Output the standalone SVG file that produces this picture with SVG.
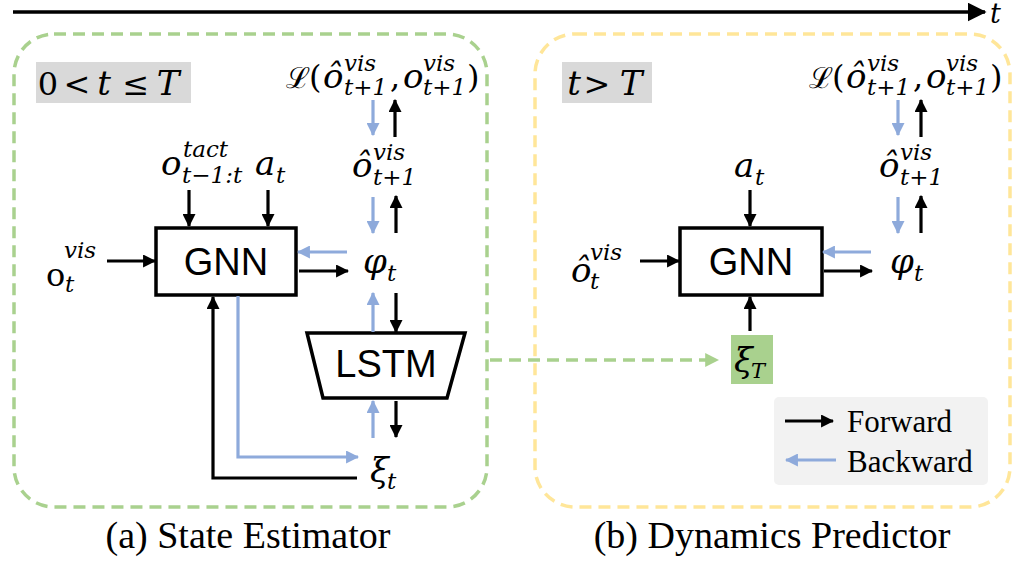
<svg xmlns="http://www.w3.org/2000/svg" width="1022" height="567" viewBox="0 0 1022 567">
<style>
.m{font-family:"DejaVu Serif","Liberation Serif",serif;font-style:italic;font-size:34px;fill:#000}
.mu{font-family:"DejaVu Serif","Liberation Serif",serif;font-style:normal;font-size:32px;fill:#000}
.s{font-family:"DejaVu Serif","Liberation Serif",serif;font-style:italic;font-size:23px;fill:#000}
.c{text-anchor:middle}
.box{fill:#fff;stroke:#000;stroke-width:3.5}
.sans{font-family:"Liberation Sans",Arial,sans-serif;font-size:38px;fill:#000;text-anchor:middle}
.cap{font-family:"Liberation Serif","Times New Roman",serif;font-size:38px;fill:#000;text-anchor:middle}
.leg{font-family:"Liberation Serif","Times New Roman",serif;font-size:31px;fill:#000}
.fw{stroke:#000;stroke-width:3.2;fill:none;marker-end:url(#ah)}
.bw{stroke:#8eaadb;stroke-width:3.2;fill:none;marker-end:url(#ahb)}
.tag{fill:#d9d9d9}
</style>
<defs>
<marker id="ah" markerUnits="userSpaceOnUse" markerWidth="13" markerHeight="13" viewBox="0 0 12 12" refX="11" refY="6" orient="auto"><path d="M0,0 L12,6 L0,12 z" fill="#000"/></marker>
<marker id="ahb" markerUnits="userSpaceOnUse" markerWidth="13" markerHeight="13" viewBox="0 0 12 12" refX="11" refY="6" orient="auto"><path d="M0,0 L12,6 L0,12 z" fill="#8eaadb"/></marker>
<marker id="ahg" markerUnits="userSpaceOnUse" markerWidth="14" markerHeight="14" viewBox="0 0 12 12" refX="11" refY="6" orient="auto"><path d="M0,0 L12,6 L0,12 z" fill="#a9d18e"/></marker>
<marker id="aht" markerUnits="userSpaceOnUse" markerWidth="19" markerHeight="19" viewBox="0 0 12 12" refX="11" refY="6" orient="auto"><path d="M0,0 L12,6 L0,12 z" fill="#000"/></marker>
</defs>

<!-- timeline -->
<g id="timeline">
<line x1="13" y1="12" x2="985" y2="12" stroke="#000" stroke-width="3.5" marker-end="url(#aht)"/>
<text class="m" x="990" y="23" style="font-size:27px">t</text>
</g>

<!-- panels -->
<g id="panel-a">
<rect x="14" y="34" width="473" height="473" rx="40" fill="none" stroke="#a9d18e" stroke-width="3.5" stroke-dasharray="12 7"/>
<rect class="tag" x="36" y="62" width="155" height="41"/>
<text class="mu c" x="48" y="95">0</text>
<text class="mu c" x="77" y="95">&lt;</text>
<text class="m c" x="104" y="95">t</text>
<text class="mu c" x="136" y="95">≤</text>
<text class="m c" x="168" y="95">T</text>
<text class="cap" x="248" y="548">(a) State Estimator</text>
</g>
<g id="panel-b">
<rect x="535" y="34" width="475" height="473" rx="40" fill="none" stroke="#ffe699" stroke-width="3.5" stroke-dasharray="12 7"/>
<rect class="tag" x="562" y="62" width="90" height="41"/>
<text class="m c" x="574" y="95">t</text>
<text class="mu c" x="597" y="95">&gt;</text>
<text class="m c" x="631" y="95">T</text>
<text class="cap" x="772" y="548">(b) Dynamics Predictor</text>
</g>

<!-- left nodes -->
<g id="loss-a">
<text class="mu" x="286" y="88" style="font-size:29px">ℒ</text>
<text class="mu" x="309" y="88">(</text>
<text class="m" x="323" y="88">ô</text>
<text class="s" x="344" y="71">vis</text>
<text class="s" x="344" y="95">t+1</text>
<text class="mu" x="390" y="88">,</text>
<text class="m" x="403" y="88">o</text>
<text class="s" x="423" y="71">vis</text>
<text class="s" x="423" y="95">t+1</text>
<text class="mu" x="467" y="88">)</text>
</g>
<g id="ohat-next-a">
<text class="m" x="352" y="177">ô</text>
<text class="s" x="373" y="160">vis</text>
<text class="s" x="373" y="185">t+1</text>
</g>
<g id="otact">
<text class="m" x="161" y="175">o</text>
<text class="s" x="183" y="157">tact</text>
<text class="s" x="182" y="183">t−1:t</text>
</g>
<g id="at-a">
<text class="m" x="255" y="175">a</text>
<text class="s" x="276" y="183">t</text>
</g>
<g id="ovis">
<text class="mu" x="46" y="286">o</text>
<text class="s" x="64" y="258">vis</text>
<text class="s" x="65" y="292">t</text>
</g>
<g id="gnn-a">
<rect class="box" x="156" y="228" width="140" height="67"/>
<text class="sans" x="226" y="275">GNN</text>
</g>
<g id="phi-a">
<text class="m" x="363" y="273">φ</text>
<text class="s" x="387" y="281">t</text>
</g>
<g id="lstm">
<path d="M307,333 L465,333 L447,398 L323,398 Z" fill="#fff" stroke="#000" stroke-width="3.5" stroke-linejoin="miter"/>
<text class="sans" x="386" y="377">LSTM</text>
</g>
<g id="xi-t">
<text class="m" x="370" y="482">ξ</text>
<text class="s" x="387" y="489">t</text>
</g>

<!-- right nodes -->
<g id="loss-b">
<text class="mu" x="809" y="88" style="font-size:29px">ℒ</text>
<text class="mu" x="832" y="88">(</text>
<text class="m" x="846" y="88">ô</text>
<text class="s" x="867" y="71">vis</text>
<text class="s" x="867" y="95">t+1</text>
<text class="mu" x="913" y="88">,</text>
<text class="m" x="926" y="88">o</text>
<text class="s" x="946" y="71">vis</text>
<text class="s" x="946" y="95">t+1</text>
<text class="mu" x="990" y="88">)</text>
</g>
<g id="ohat-next-b">
<text class="m" x="879" y="177">ô</text>
<text class="s" x="900" y="160">vis</text>
<text class="s" x="900" y="185">t+1</text>
</g>
<g id="at-b">
<text class="m" x="734" y="177">a</text>
<text class="s" x="755" y="185">t</text>
</g>
<g id="ohat-vis">
<text class="m" x="571" y="282">ô</text>
<text class="s" x="590" y="260">vis</text>
<text class="s" x="590" y="289">t</text>
</g>
<g id="gnn-b">
<rect class="box" x="680" y="228" width="142" height="67"/>
<text class="sans" x="751" y="275">GNN</text>
</g>
<g id="phi-b">
<text class="m" x="890" y="273">φ</text>
<text class="s" x="914" y="281">t</text>
</g>
<g id="xi-T">
<rect x="731" y="335" width="42" height="49" fill="#a9d18e"/>
<text class="m" x="734" y="372">ξ</text>
<text class="s" x="751" y="378" style="font-size:21px">T</text>
</g>
<g id="legend">
<rect x="774" y="397" width="214" height="88" rx="5" fill="#f2f2f2"/>
<line class="fw" x1="785" y1="421" x2="833" y2="421"/>
<text class="leg" x="847" y="432">Forward</text>
<line class="bw" x1="836" y1="460" x2="786" y2="460"/>
<text class="leg" x="847" y="472">Backward</text>
</g>

<!-- connectors -->
<g id="connectors">
<line class="bw" x1="373" y1="100" x2="373" y2="135"/>
<line class="fw" x1="395" y1="137" x2="395" y2="100"/>
<line class="fw" x1="189" y1="190" x2="189" y2="226"/>
<line class="fw" x1="268" y1="190" x2="268" y2="226"/>
<line class="bw" x1="373" y1="197" x2="373" y2="233"/>
<line class="fw" x1="396" y1="233" x2="396" y2="196"/>
<line class="fw" x1="107" y1="261" x2="155" y2="261"/>
<line class="bw" x1="347" y1="252" x2="298" y2="252"/>
<line class="fw" x1="299" y1="271" x2="348" y2="271"/>
<line class="bw" x1="373" y1="332" x2="373" y2="293"/>
<line class="fw" x1="396" y1="293" x2="396" y2="332"/>
<line class="bw" x1="373" y1="438" x2="373" y2="401"/>
<line class="fw" x1="396" y1="401" x2="396" y2="437"/>
<polyline class="bw" points="238,296 238,457 358,457"/>
<polyline class="fw" points="357,478 213,478 213,297"/>
<line x1="490" y1="360" x2="718" y2="360" stroke="#a9d18e" stroke-width="3.5" stroke-dasharray="12 7" marker-end="url(#ahg)"/>
<line class="bw" x1="898" y1="100" x2="898" y2="135"/>
<line class="fw" x1="921" y1="137" x2="921" y2="100"/>
<line class="fw" x1="750" y1="190" x2="750" y2="226"/>
<line class="bw" x1="898" y1="197" x2="898" y2="233"/>
<line class="fw" x1="921" y1="233" x2="921" y2="196"/>
<line class="fw" x1="640" y1="261" x2="679" y2="261"/>
<line class="bw" x1="871" y1="252" x2="823" y2="252"/>
<line class="fw" x1="824" y1="271" x2="872" y2="271"/>
<line class="fw" x1="750" y1="331" x2="750" y2="297"/>
</g>
</svg>
